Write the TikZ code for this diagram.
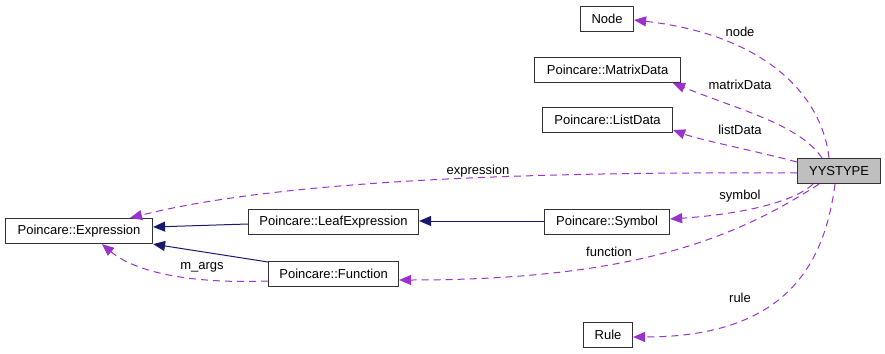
\documentclass[tikz,border=0pt]{standalone}
\usepackage{fontspec}
\setmainfont{Liberation Sans}
\usetikzlibrary{arrows.meta}
\definecolor{assoc}{HTML}{9A32CD}
\definecolor{inherit}{HTML}{191970}
\definecolor{boxline}{HTML}{333333}
\definecolor{focusfill}{HTML}{BFBFBF}
\tikzset{
  cls/.style={draw=boxline, line width=1.1pt, fill=white, inner sep=0pt,
    font=\fontsize{13}{15}\selectfont},
  lab/.style={inner sep=0pt, font=\fontsize{13}{15}\selectfont},
  member/.style={draw=assoc, line width=1pt, dash pattern=on 7pt off 5pt,
    -{Triangle[length=12pt,width=10pt]}},
  derived/.style={draw=inherit, line width=1pt,
    -{Triangle[length=12pt,width=10pt]}}
}
\begin{document}
\begin{tikzpicture}[x=1pt,y=-1pt]
\useasboundingbox (0,0) rectangle (885,353);
% class boxes: (left,top) rectangle (right,bottom)
\node[cls, minimum width=53pt, minimum height=25pt, anchor=north west] (node) at (580,6) {Node};
\node[cls, minimum width=146pt, minimum height=25pt, anchor=north west] (matrix) at (534,57) {Poincare::MatrixData};
\node[cls, minimum width=130pt, minimum height=25pt, anchor=north west] (list) at (542,107) {Poincare::ListData};
\node[cls, fill=focusfill, minimum width=83pt, minimum height=25pt, anchor=north west] (yy) at (797,158) {YYSTYPE};
\node[cls, minimum width=147pt, minimum height=25pt, anchor=north west] (expr) at (5,218) {Poincare::Expression};
\node[cls, minimum width=170pt, minimum height=25pt, anchor=north west] (leaf) at (248,209) {Poincare::LeafExpression};
\node[cls, minimum width=125pt, minimum height=25pt, anchor=north west] (sym) at (544,209) {Poincare::Symbol};
\node[cls, minimum width=130pt, minimum height=25pt, anchor=north west] (func) at (268,261) {Poincare::Function};
\node[cls, minimum width=49pt, minimum height=25pt, anchor=north west] (rule) at (583,322) {Rule};

% inheritance
\draw[derived] (leaf.west |- 0,224) -- (expr.east |- 0,227);
\draw[derived] (func.north west |- 0,262) -- (expr.south east);
\draw[derived] (sym.west |- 0,221) -- (leaf.east |- 0,221);

% member associations
\draw[member] (yy.north -| 829,0) .. controls (822,95) and (765,35) .. (node.east |- 0,20);
\draw[member] (yy.north -| 822,0) .. controls (800,125) and (740,110) .. (matrix.south east -| 673,0);
\draw[member] (yy.west |- 0,162) .. controls (760,152) and (700,140) .. (list.east |- 0,130);
\draw[member] (yy.west |- 0,173) .. controls (600,172) and (300,175) .. (expr.north -| 130,0);
\draw[member] (yy.south -| 813,0) .. controls (790,205) and (730,215) .. (sym.east |- 0,219);
\draw[member] (yy.south -| 819,0) .. controls (740,235) and (640,280) .. (func.east |- 0,280);
\draw[member] (yy.south -| 835,0) .. controls (825,260) and (790,337) .. (rule.east |- 0,337);
\draw[member] (func.west |- 0,281) .. controls (190,284) and (135,272) .. (expr.south -| 102,0);

% member names
\node[lab] (lnode) at (740,32) {node};
\node[lab] (lmatrix) at (740,85) {matrixData};
\node[lab] (llist) at (740,130) {listData};
\node[lab] (lexpr) at (478,171) {expression};
\node[lab] (lsym) at (740,196) {symbol};
\node[lab] (lfunc) at (609,252) {function};
\node[lab] (lrule) at (740,298) {rule};
\node[lab] (largs) at (202,267) {m\_args};
\end{tikzpicture}
\end{document}
